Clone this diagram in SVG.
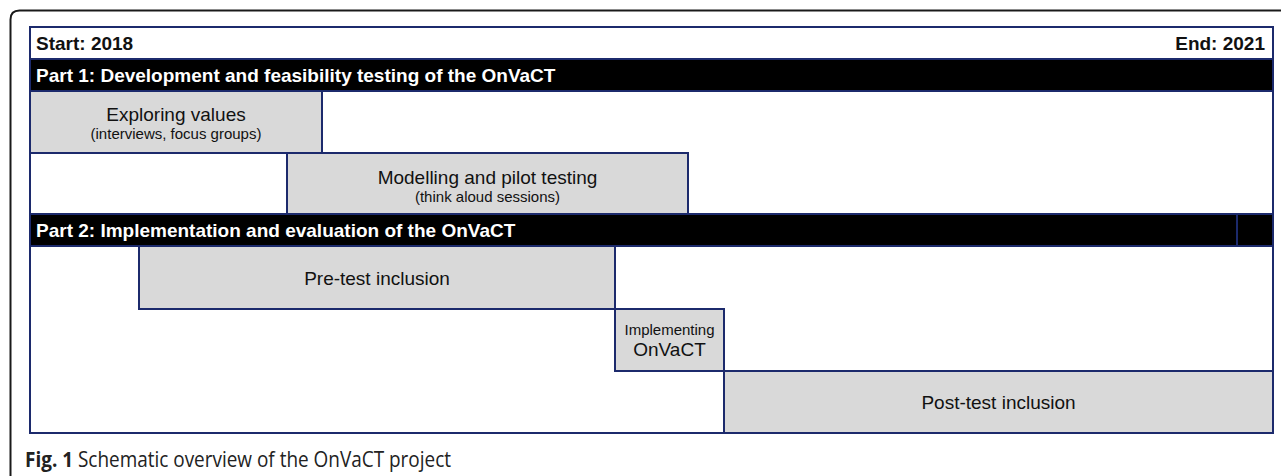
<svg xmlns="http://www.w3.org/2000/svg" width="1281" height="476" viewBox="0 0 1281 476">
<style>
.ln{stroke:#1c2a6c;stroke-width:2;fill:none}
.box{fill:#d9d9d9;stroke:#1c2a6c;stroke-width:2}
.band{fill:#000;stroke:#1c2a6c;stroke-width:2}
.hd{font-family:"Liberation Sans",Arial,sans-serif;font-weight:bold;font-size:19px;fill:#111}
.hw{font-family:"Liberation Sans",Arial,sans-serif;font-weight:bold;font-size:19px;fill:#fff}
.t{font-family:"Liberation Sans",Arial,sans-serif;font-size:19px;fill:#111;text-anchor:middle}
.s{font-family:"Liberation Sans",Arial,sans-serif;font-size:15px;fill:#111;text-anchor:middle}
.cap{font-family:"Open Sans","Noto Sans",sans-serif;font-size:21px;fill:#222}
</style>
<rect width="1281" height="476" fill="#fff"/>
<path d="M10.5,476 V19.5 Q10.5,10.5 19.5,10.5 H1281" fill="none" stroke="#1a1a1a" stroke-width="2"/>
<g id="table">
<rect x="30" y="27" width="1243" height="406" fill="#fff" stroke="#1c2a6c" stroke-width="2"/>
</g>
<g id="start-row">
<text class="hd" x="36" y="50">Start: 2018</text>
<text class="hd" x="1265" y="50" text-anchor="end">End: 2021</text>
</g>
<g id="part1">
<rect class="band" x="30" y="59" width="1243" height="32"/>
<text class="hw" x="36" y="81.5">Part 1: Development and feasibility testing of the OnVaCT</text>
</g>
<g id="exploring">
<rect class="box" x="30" y="91" width="292" height="62"/>
<text class="t" x="176" y="120.5">Exploring values</text>
<text class="s" x="176" y="138.5">(interviews, focus groups)</text>
</g>
<g id="modelling">
<rect x="30" y="153" width="257" height="61" fill="#fff" stroke="#1c2a6c" stroke-width="2"/>
<rect class="box" x="287" y="153" width="401" height="61"/>
<text class="t" x="487.5" y="183.5">Modelling and pilot testing</text>
<text class="s" x="487.5" y="201.5">(think aloud sessions)</text>
</g>
<g id="part2">
<rect class="band" x="30" y="214" width="1243" height="32"/>
<line class="ln" x1="1237" y1="214" x2="1237" y2="246"/>
<text class="hw" x="36" y="236.5">Part 2: Implementation and evaluation of the OnVaCT</text>
</g>
<g id="pretest">
<rect class="box" x="139" y="246" width="476" height="63"/>
<text class="t" x="377" y="285">Pre-test inclusion</text>
</g>
<g id="implementing">
<rect class="box" x="615" y="309" width="109" height="62"/>
<text class="s" x="669.5" y="335">Implementing</text>
<text class="t" x="669.5" y="356">OnVaCT</text>
</g>
<g id="posttest">
<rect class="box" x="724" y="371" width="549" height="62"/>
<text class="t" x="998.5" y="409">Post-test inclusion</text>
</g>
<g id="connectors"></g>
<text class="cap" x="25" y="467" textLength="426" lengthAdjust="spacingAndGlyphs"><tspan font-weight="bold">Fig. 1</tspan> Schematic overview of the OnVaCT project</text>
</svg>
